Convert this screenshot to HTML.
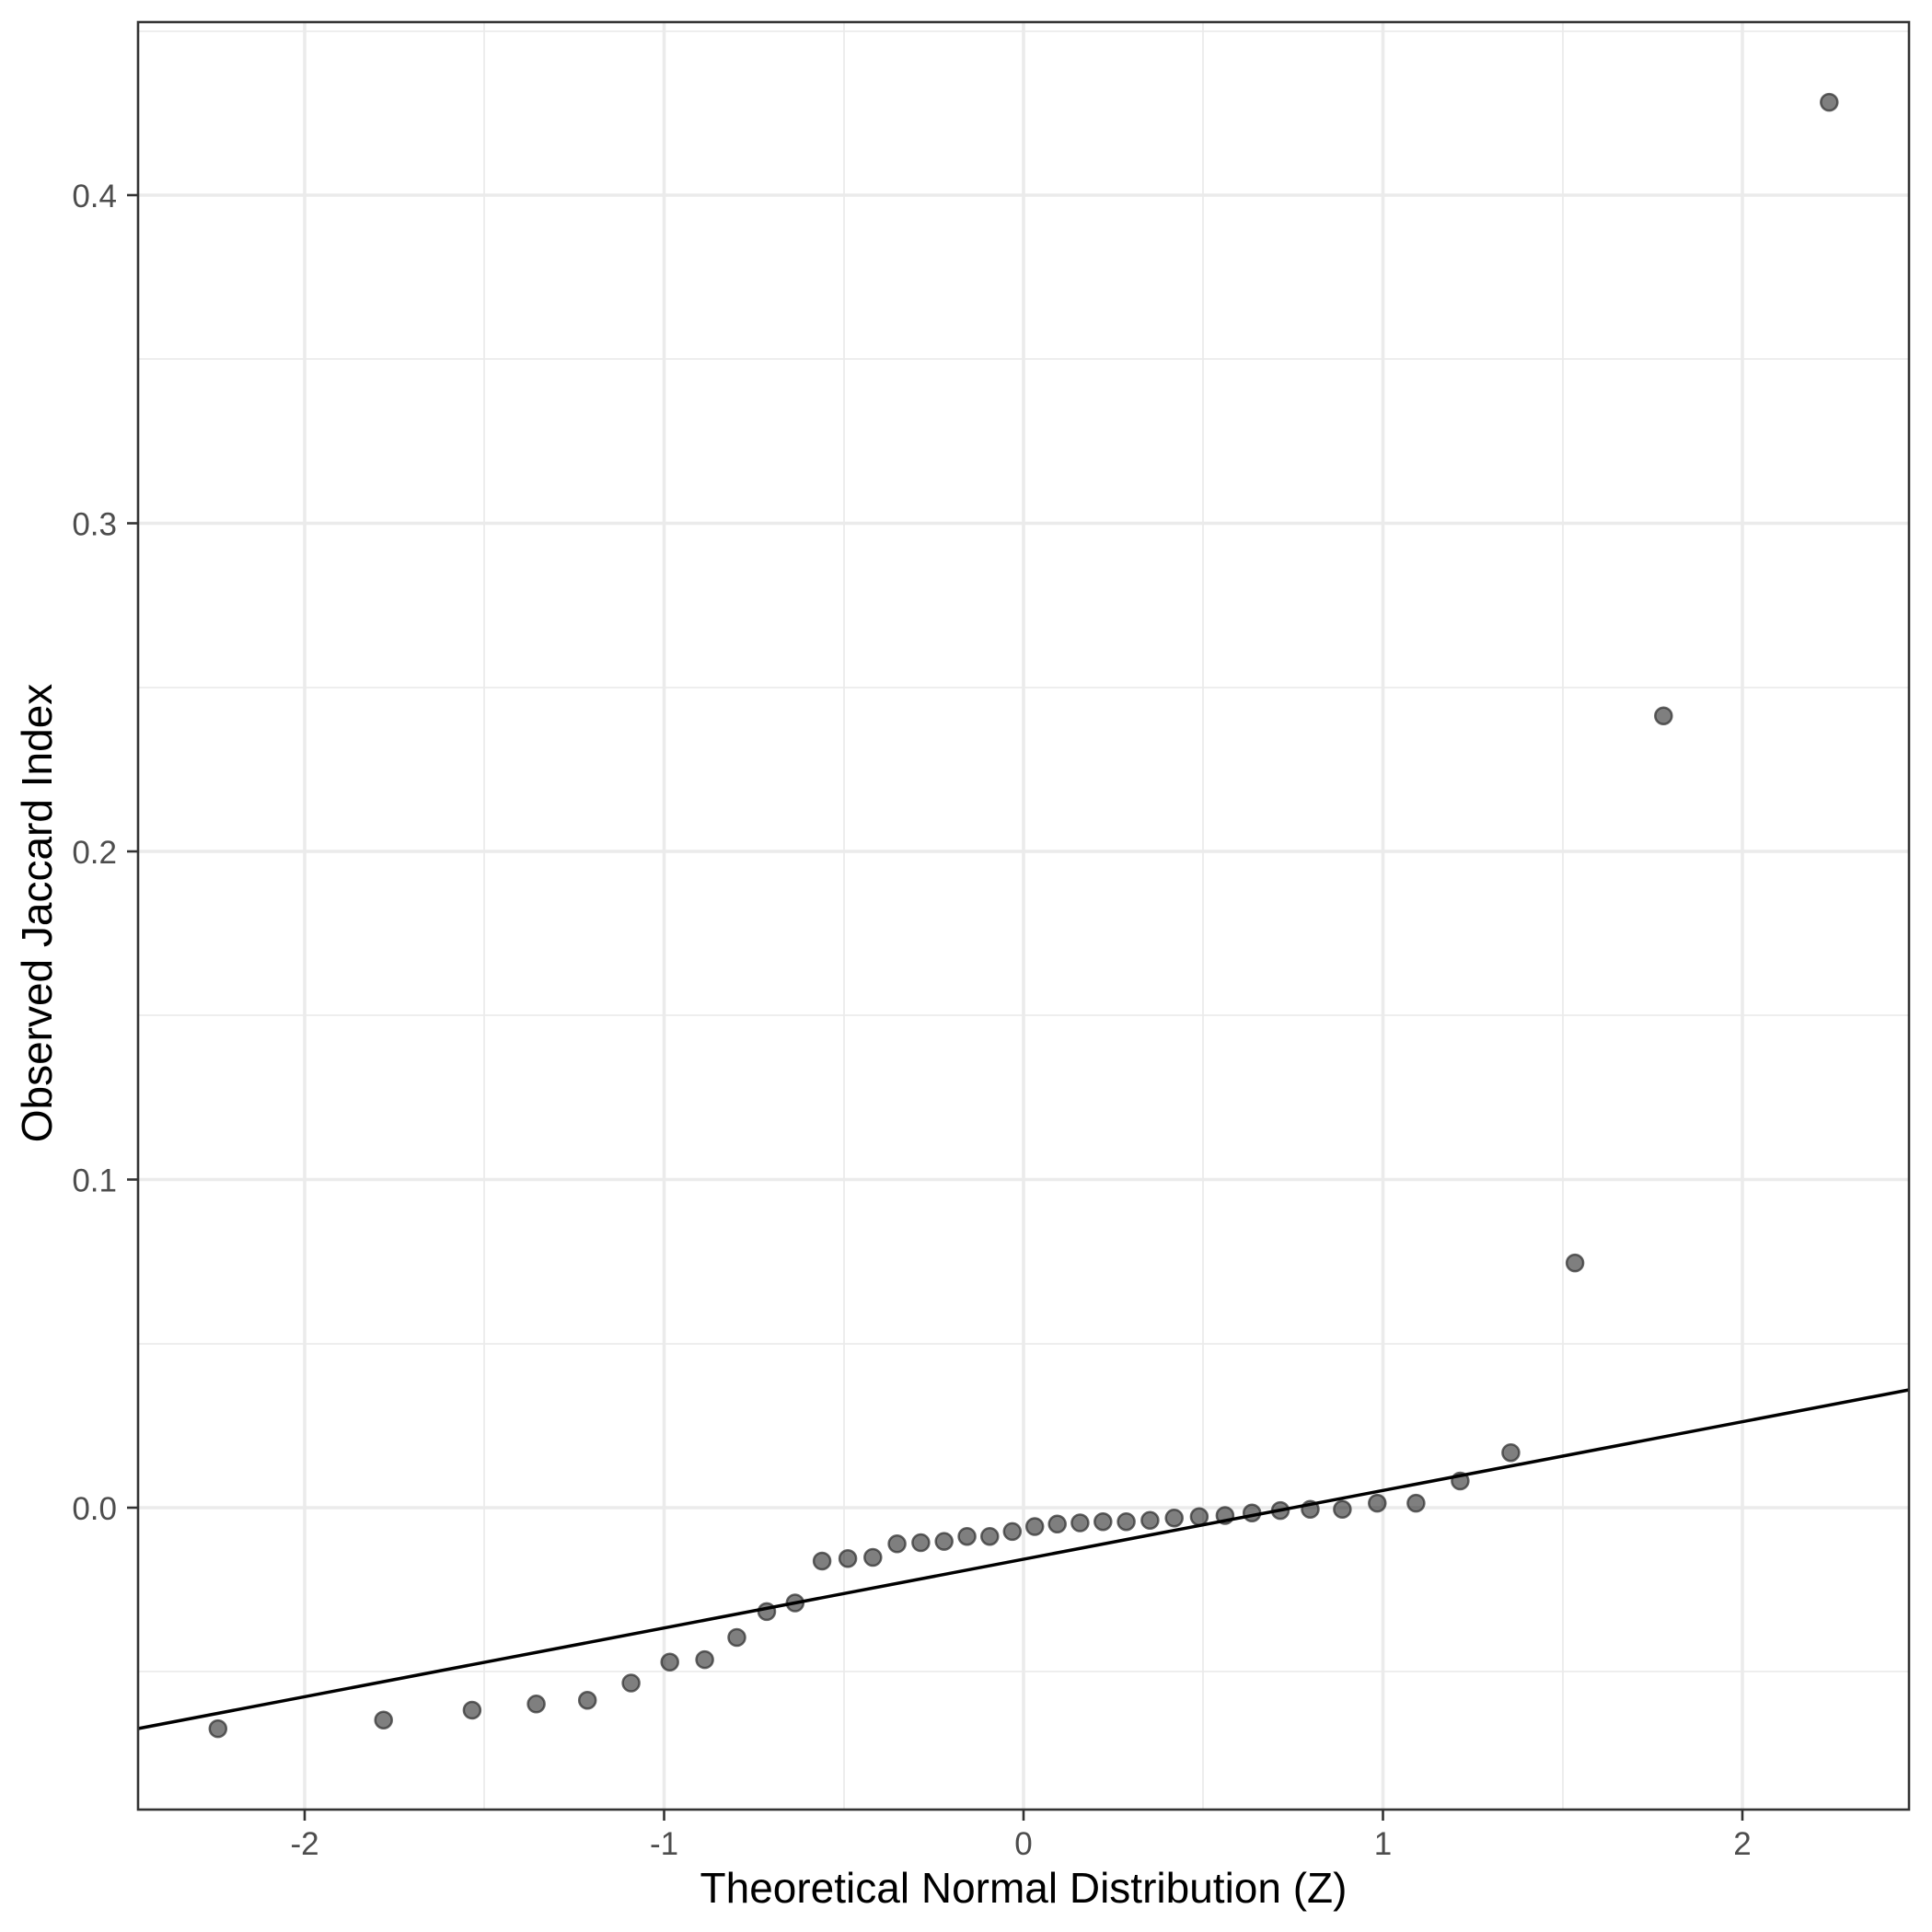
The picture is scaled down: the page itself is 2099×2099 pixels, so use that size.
<!DOCTYPE html>
<html><head><meta charset="utf-8"><style>html,body{margin:0;padding:0;background:#fff}svg{display:block}</style></head>
<body>
<svg width="2099" height="2099" viewBox="0 0 2099 2099" xmlns="http://www.w3.org/2000/svg" font-family="Liberation Sans, sans-serif">
<rect width="2099" height="2099" fill="#fff"/>
<g stroke="#ebebeb" stroke-width="1.8">
<line x1="526" y1="24" x2="526" y2="1966"/><line x1="917" y1="24" x2="917" y2="1966"/><line x1="1307" y1="24" x2="1307" y2="1966"/><line x1="1698" y1="24" x2="1698" y2="1966"/>
<line x1="150" y1="1816" x2="2074" y2="1816"/><line x1="150" y1="1460" x2="2074" y2="1460"/><line x1="150" y1="1103" x2="2074" y2="1103"/><line x1="150" y1="747" x2="2074" y2="747"/><line x1="150" y1="390" x2="2074" y2="390"/><line x1="150" y1="34" x2="2074" y2="34"/>
</g>
<g stroke="#ebebeb" stroke-width="3.6">
<line x1="331" y1="24" x2="331" y2="1966"/><line x1="721.5" y1="24" x2="721.5" y2="1966"/><line x1="1112" y1="24" x2="1112" y2="1966"/><line x1="1502.5" y1="24" x2="1502.5" y2="1966"/><line x1="1893" y1="24" x2="1893" y2="1966"/>
<line x1="150" y1="1638" x2="2074" y2="1638"/><line x1="150" y1="1281.5" x2="2074" y2="1281.5"/><line x1="150" y1="925" x2="2074" y2="925"/><line x1="150" y1="568.5" x2="2074" y2="568.5"/><line x1="150" y1="212" x2="2074" y2="212"/>
</g>
<g fill="#000" fill-opacity="0.5" stroke="#333" stroke-opacity="0.75" stroke-width="2.5">
<circle cx="236.8" cy="1878.1" r="9"/><circle cx="416.7" cy="1868.7" r="9"/><circle cx="512.9" cy="1858" r="9"/><circle cx="582.6" cy="1851.3" r="9"/><circle cx="638.2" cy="1847.3" r="9"/>
<circle cx="685.6" cy="1828.5" r="9"/><circle cx="727.7" cy="1805.8" r="9"/><circle cx="765.6" cy="1803.1" r="9"/><circle cx="800.5" cy="1779" r="9"/><circle cx="833" cy="1750.9" r="9"/>
<circle cx="863.8" cy="1741.5" r="9"/><circle cx="893.1" cy="1696" r="9"/><circle cx="921.1" cy="1693.3" r="9"/><circle cx="948.3" cy="1692" r="9"/><circle cx="974.6" cy="1677.3" r="9"/>
<circle cx="1000.4" cy="1676" r="9"/><circle cx="1025.7" cy="1674.6" r="9"/><circle cx="1050.6" cy="1669.2" r="9"/><circle cx="1075.3" cy="1669.2" r="9"/><circle cx="1099.8" cy="1663.9" r="9"/>
<circle cx="1124.2" cy="1658.5" r="9"/><circle cx="1148.7" cy="1655.8" r="9"/><circle cx="1173.4" cy="1654.5" r="9"/><circle cx="1198.3" cy="1653.2" r="9"/><circle cx="1223.6" cy="1653.2" r="9"/>
<circle cx="1249.4" cy="1651.8" r="9"/><circle cx="1275.7" cy="1649.2" r="9"/><circle cx="1302.9" cy="1647.8" r="9"/><circle cx="1330.9" cy="1646.5" r="9"/><circle cx="1360.2" cy="1643.8" r="9"/>
<circle cx="1391" cy="1641.1" r="9"/><circle cx="1423.5" cy="1639.8" r="9"/><circle cx="1458.4" cy="1639.8" r="9"/><circle cx="1496.3" cy="1633.1" r="9"/><circle cx="1538.4" cy="1633.1" r="9"/>
<circle cx="1586.4" cy="1609" r="9"/><circle cx="1641.4" cy="1578.2" r="9"/><circle cx="1711.1" cy="1372.1" r="9"/><circle cx="1807.3" cy="777.7" r="9"/><circle cx="1987.3" cy="111.1" r="9"/>
</g>
<line x1="150" y1="1878" x2="2074" y2="1510" stroke="#000" stroke-width="3.5"/>
<rect x="150" y="24" width="1924" height="1942" fill="none" stroke="#333" stroke-width="2.6"/>
<g stroke="#333" stroke-width="2.6">
<line x1="331" y1="1966" x2="331" y2="1978"/><line x1="721.5" y1="1966" x2="721.5" y2="1978"/><line x1="1112" y1="1966" x2="1112" y2="1978"/><line x1="1502.5" y1="1966" x2="1502.5" y2="1978"/><line x1="1893" y1="1966" x2="1893" y2="1978"/>
<line x1="138" y1="1638" x2="150" y2="1638"/><line x1="138" y1="1281.5" x2="150" y2="1281.5"/><line x1="138" y1="925" x2="150" y2="925"/><line x1="138" y1="568.5" x2="150" y2="568.5"/><line x1="138" y1="212" x2="150" y2="212"/>
</g>
<g fill="#4d4d4d" font-size="35" text-anchor="middle">
<text x="331" y="2015">-2</text><text x="721.5" y="2015">-1</text><text x="1112" y="2015">0</text><text x="1502.5" y="2015">1</text><text x="1893" y="2015">2</text>
</g>
<g fill="#4d4d4d" font-size="35" text-anchor="end">
<text x="127" y="1651">0.0</text><text x="127" y="1294.5">0.1</text><text x="127" y="938">0.2</text><text x="127" y="581.5">0.3</text><text x="127" y="225">0.4</text>
</g>
<text x="1112" y="2067" font-size="46" text-anchor="middle" fill="#000">Theoretical Normal Distribution (Z)</text>
<text transform="translate(56,992) rotate(-90)" font-size="46" text-anchor="middle" fill="#000">Observed Jaccard Index</text>
</svg>
</body></html>
